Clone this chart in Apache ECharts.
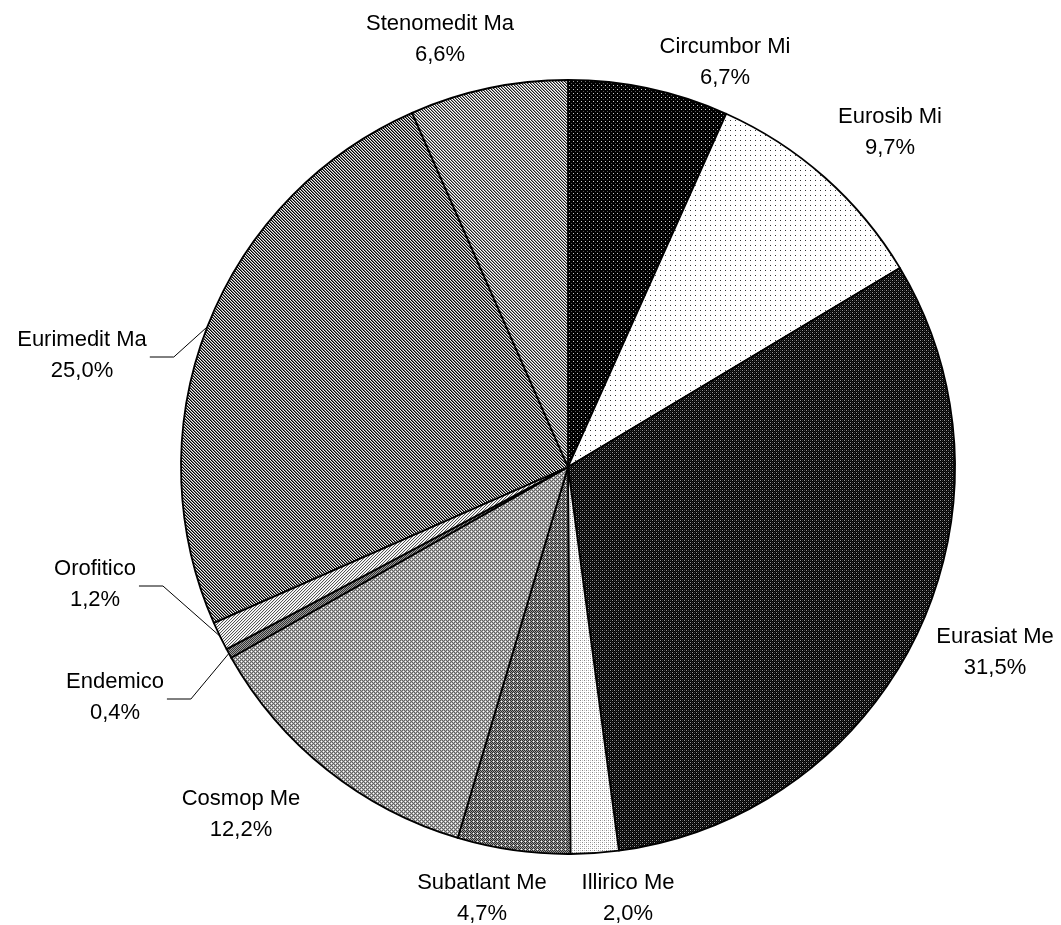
<!DOCTYPE html>
<html>
<head>
<meta charset="utf-8">
<title>Spettro corologico</title>
<script src="https://cdn.jsdelivr.net/npm/echarts@6/dist/echarts.min.js"></script>
<style>
  html, body { margin: 0; padding: 0; background: #fff; }
  #chart { width: 1061px; height: 925px; }
</style>
</head>
<body>
<div id="chart"></div>
<script>
// Chorological spectrum: share of each chorotype (%)
const categories = ['Circumbor Mi', 'Eurosib Mi', 'Eurasiat Me', 'Illirico Me', 'Subatlant Me',
                    'Cosmop Me', 'Endemico', 'Orofitico', 'Eurimedit Ma', 'Stenomedit Ma'];
const shares = [6.7, 9.7, 31.5, 2.0, 4.7, 12.2, 0.4, 1.2, 25.0, 6.6];

// Label placement (label centre) and which labels get a leader line
const labelPos = [[725, 62], [890, 132], [995, 652], [628, 898], [482, 898],
                  [241, 814], [115, 697], [95, 584], [82, 355], [440, 39]];
const withLeader = [false, false, false, false, false, false, true, true, true, false];

// Small repeating bitmap fills, built from a per-pixel colour function
function makePattern(w, h, fn) {
  const c = document.createElement('canvas');
  c.width = w; c.height = h;
  const ctx = c.getContext('2d');
  for (let y = 0; y < h; y++) {
    for (let x = 0; x < w; x++) {
      ctx.fillStyle = fn(x, y);
      ctx.fillRect(x, y, 1, 1);
    }
  }
  return { image: c, repeat: 'repeat' };
}

const mod = (a, n) => ((a % n) + n) % n;

const fills = [
  // Circumbor Mi: black with sparse light dots
  makePattern(4, 4, (x, y) => (x === 1 && y === 1) ? '#d0d0d0' : (x === 3 && y === 3) ? '#555' : '#000'),
  // Eurosib Mi: white with sparse dark dots
  makePattern(5, 5, (x, y) => (x === 0 && y === 0) ? '#333' : '#fff'),
  // Eurasiat Me: near-black with grey dot grid
  makePattern(4, 4, (x, y) => {
    if ((x === 0 && y === 0) || (x === 2 && y === 2)) return '#999';
    if ((x === 0 && y === 2) || (x === 2 && y === 0)) return '#404040';
    if (x % 2 === 1 && y % 2 === 1) return '#181818';
    return '#000';
  }),
  // Illirico Me: white with light grey checker dots
  makePattern(4, 4, (x, y) => {
    if ((x === 0 && y === 0) || (x === 2 && y === 2)) return '#8a8a8a';
    if ((x === 0 && y === 2) || (x === 2 && y === 0)) return '#c8c8c8';
    return '#fff';
  }),
  // Subatlant Me: dark checker with white crosses
  makePattern(4, 4, (x, y) => {
    if (x === 1 && y === 1) return '#fff';
    return (x + y) % 2 === 0 ? '#2a2a2a' : '#9a9a9a';
  }),
  // Cosmop Me: mid grey checker with white spots
  makePattern(4, 4, (x, y) => {
    if ((x === 1 && y === 1) || (x === 3 && y === 3)) return '#fff';
    return (x + y) % 2 === 0 ? '#606060' : '#b0b0b0';
  }),
  // Endemico: dense grey checker
  makePattern(2, 2, (x, y) => (x + y) % 2 === 0 ? '#333' : '#a0a0a0'),
  // Orofitico: light "/" stripes
  makePattern(3, 3, (x, y) => {
    const k = mod(x + y, 3);
    return k === 0 ? '#555' : (k === 1 ? '#e6e6e6' : '#fff');
  }),
  // Eurimedit Ma: "\" stripes, black/grey/white
  makePattern(3, 3, (x, y) => {
    const k = mod(x - y, 3);
    return k === 0 ? '#000' : (k === 1 ? '#777' : '#f0f0f0');
  }),
  // Stenomedit Ma: "\" stripes, a little lighter
  makePattern(3, 3, (x, y) => {
    const k = mod(x - y, 3);
    return k === 0 ? '#1e1e1e' : (k === 1 ? '#9a9a9a' : '#fff');
  })
];

const pieData = categories.map((name, i) => ({
  name: name,
  value: shares[i],
  itemStyle: { color: fills[i] },
  labelLine: { show: withLeader[i] }
}));

const chart = echarts.init(document.getElementById('chart'), null, { renderer: 'canvas' });

chart.setOption({
  animation: false,
  backgroundColor: '#fff',
  series: [{
    type: 'pie',
    center: [568, 467],
    radius: 387,
    startAngle: 90,
    clockwise: true,
    avoidLabelOverlap: false,
    data: pieData,
    itemStyle: { borderColor: '#000', borderWidth: 1.8 },
    emphasis: { disabled: true },
    label: {
      show: true,
      position: 'outside',
      formatter: p => p.name + '\n' + p.value.toFixed(1).replace('.', ',') + '%',
      fontFamily: 'Liberation Sans, Arial, sans-serif',
      fontSize: 22,
      lineHeight: 31,
      color: '#000',
      align: 'center'
    },
    labelLine: {
      show: true,
      length: 10,
      length2: 10,
      smooth: false,
      lineStyle: { color: '#000', width: 1 }
    },
    labelLayout: function (params) {
      const i = params.dataIndex;
      const pos = labelPos[i];
      const out = { x: pos[0], y: pos[1], align: 'center', verticalAlign: 'middle' };
      if (withLeader[i] && params.labelLinePoints) {
        const anchor = params.labelLinePoints[0];
        const startX = pos[0] + params.labelRect.width / 2 + 3;
        const elbowX = startX + 24;
        out.labelLinePoints = [anchor, [elbowX, pos[1] + 2], [startX, pos[1] + 2]];
      }
      return out;
    }
  }]
});
</script>
</body>
</html>
